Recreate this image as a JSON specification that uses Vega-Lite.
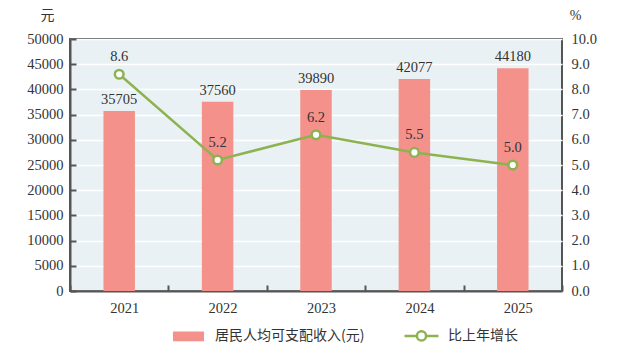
{
  "$schema": "https://vega.github.io/schema/vega-lite/v6.json",
  "autosize": "none",
  "width": 492,
  "height": 252,
  "padding": {"left": 70, "top": 39, "right": 70, "bottom": 67},
  "background": "white",
  "config": {
    "view": {"fill": "#eaf1f4", "stroke": "#555555", "strokeWidth": 2},
    "font": "Liberation Serif",
    "axis": {"labelFont": "Liberation Serif", "labelFontSize": 14.5, "labelColor": "#333333", "titleFont": "Noto Sans CJK SC", "titleFontWeight": "normal", "titleFontSize": 14, "titleColor": "#333333"}
  },
  "data": {"values": [
    {"year": "2021", "income": 35705, "growth": 8.6},
    {"year": "2022", "income": 37560, "growth": 5.2},
    {"year": "2023", "income": 39890, "growth": 6.2},
    {"year": "2024", "income": 42077, "growth": 5.5},
    {"year": "2025", "income": 44180, "growth": 5.0}
  ]},
  "encoding": {
    "x": {"field": "year", "type": "nominal", "scale": {"paddingInner": 0, "paddingOuter": 0},
      "axis": {"title": null, "labelAngle": 0, "tickBand": "extent", "tickSize": -6, "tickColor": "#555555", "tickWidth": 2, "domainColor": "#555555", "domainWidth": 2, "labelPadding": 16, "labelOffset": 5}}
  },
  "layer": [
    {
      "encoding": {
        "y": {"field": "income", "type": "quantitative", "scale": {"domain": [0, 50000]},
          "axis": {"values": [0,5000,10000,15000,20000,25000,30000,35000,40000,45000,50000], "format": "d", "grid": true, "gridColor": "white", "gridWidth": 1.5, "tickSize": -6, "tickColor": "#555555", "tickWidth": 2, "domainColor": "#555555", "domainWidth": 2, "labelPadding": 13, "title": "元", "titleAngle": 0, "titleX": -23, "titleY": -24, "titleAlign": "center", "titleBaseline": "middle"}}
      },
      "layer": [
        {
          "mark": {"type": "bar", "width": {"band": 0.32}},
          "encoding": {
            "color": {"datum": "居民人均可支配收入(元)", "type": "nominal",
              "scale": {"domain": ["居民人均可支配收入(元)", "比上年增长"], "range": ["#f4918b", "#8db351"]},
              "legend": {
                "orient": "none", "legendX": 100, "legendY": 278, "direction": "horizontal", "title": null,
                "labelFont": "Noto Sans CJK SC", "labelFontSize": 14, "labelColor": "#333333", "labelOffset": 8, "columnPadding": 34,
                "symbolSize": 1156, "symbolStrokeWidth": 2.5,
                "encode": {"symbols": {"update": {
                  "shape": {"signal": "datum.value === '比上年增长' ? 'M-1,0H-0.27M0.27,0H1M-0.27,0A0.27,0.27,0,1,0,0.27,0A0.27,0.27,0,1,0,-0.27,0' : 'M-0.84,-0.22H0.84V0.22H-0.84Z'"},
                  "fillOpacity": {"signal": "datum.value === '比上年增长' ? 0 : 1"},
                  "opacity": {"value": 1}
                }}}
              }}
          }
        },
        {
          "mark": {"type": "text", "dy": -11, "font": "Liberation Serif", "fontSize": 14.5, "color": "#333333"},
          "encoding": {
            "text": {"field": "income", "type": "quantitative", "format": "d"}
          }
        }
      ]
    },
    {
      "encoding": {
        "y": {"field": "growth", "type": "quantitative", "scale": {"domain": [0, 10]},
          "axis": {"orient": "right", "values": [0,1,2,3,4,5,6,7,8,9,10], "format": ".1f", "grid": false, "ticks": false, "domain": false, "labelPadding": 9, "title": "%", "titleAngle": 0, "titleX": 13, "titleY": -24, "titleAlign": "center", "titleBaseline": "middle", "titleFont": "Liberation Serif"}}
      },
      "layer": [
        {
          "mark": {"type": "line", "strokeWidth": 2.5},
          "encoding": {
            "color": {"datum": "比上年增长", "type": "nominal"}
          }
        },
        {
          "mark": {"type": "point", "shape": "circle", "filled": true, "fill": "#ffffff", "fillOpacity": 1, "opacity": 1, "stroke": "#8db351", "strokeWidth": 2.5, "size": 75}
        },
        {
          "mark": {"type": "text", "dy": -17, "font": "Liberation Serif", "fontSize": 14.5, "color": "#333333"},
          "encoding": {
            "text": {"field": "growth", "type": "quantitative", "format": ".1f"}
          }
        }
      ]
    }
  ],
  "resolve": {"scale": {"y": "independent"}}
}
